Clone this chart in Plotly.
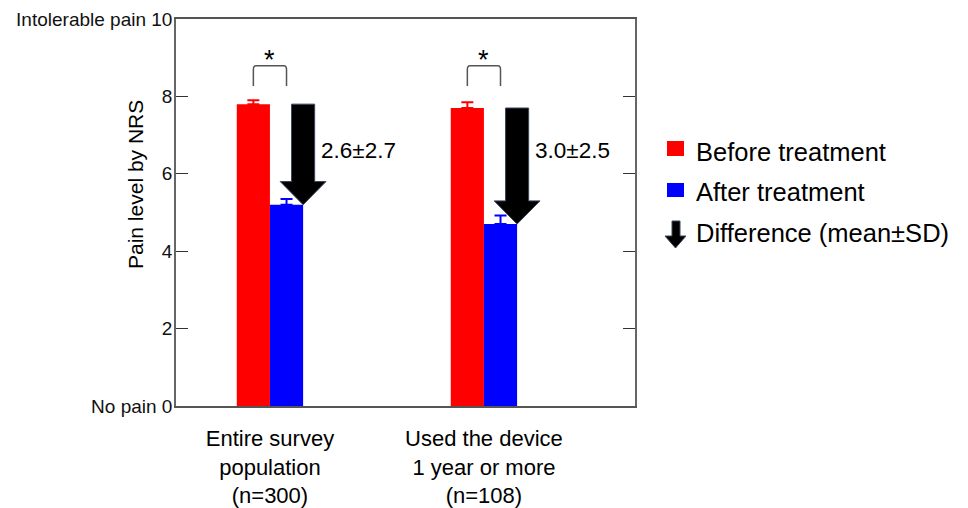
import plotly.graph_objects as go

# ---- data ----
groups = ["Entire survey<br>population<br>(n=300)", "Used the device<br>1 year or more<br>(n=108)"]
before = [7.8, 7.7]
before_err = [0.1, 0.15]
after = [5.2, 4.7]
after_err = [0.15, 0.22]
diff_labels = ["2.6±2.7", "3.0±2.5"]
significance = ["*", "*"]
y_ticks = [0, 2, 4, 6, 8, 10]
y_ticktext = ["No pain\u00a00", "2", "4", "6", "8", "Intolerable pain\u00a010"]
legend_names = ["Before treatment", "After treatment", "Difference (mean±SD)"]

FONT = "Liberation Sans, Arial, sans-serif"
PAGE_W, PAGE_H = 968, 508
OFF = 8  # page body margin
W, H = PAGE_W - OFF, PAGE_H - OFF
L, R, T, B = 176, 635, 19, 406  # plot area in page pixels
xs = list(range(len(groups)))
BW = 0.155  # bar width in x units

fig = go.Figure()
fig.add_trace(go.Bar(x=xs, y=before, name=legend_names[0], marker=dict(color="#ff0000", line=dict(width=0)),
                     error_y=dict(type="data", symmetric=False, array=before_err, arrayminus=[0]*len(xs),
                                  color="#ff0000", thickness=2, width=6)))
fig.add_trace(go.Bar(x=xs, y=after, name=legend_names[1], marker=dict(color="#0000ff", line=dict(width=0)),
                     error_y=dict(type="data", symmetric=False, array=after_err, arrayminus=[0]*len(xs),
                                  color="#0000ff", thickness=2, width=6)))

# difference arrows (built from before/after values)
off, sh, hh, hl = 0.155, 0.054, 0.107, 0.6
for i, (b, a) in enumerate(zip(before, after)):
    c = i + off
    px_ = [c - sh, c + sh, c + sh, c + hh, c, c - hh, c - sh, c - sh]
    py_ = [b, b, a + hl, a + hl, a, a + hl, a + hl, b]
    fig.add_trace(go.Scatter(x=px_, y=py_, mode="lines", fill="toself", fillcolor="#000000",
                             line=dict(color="#3a4560", width=1), hoverinfo="skip", showlegend=False))
    fig.add_annotation(x=c + sh, y=6.6, text=diff_labels[i], showarrow=False, xanchor="left",
                       xshift=4, font=dict(family=FONT, size=22.5, color="#000"))
    # significance bracket
    x0, x1 = i - BW / 2, i + BW / 2
    y0, y1 = 8.27, 8.79
    r = 0.012
    path = (f"M {x0},{y0} L {x0},{y1-0.1} Q {x0},{y1} {x0+r},{y1} L {x1-r},{y1} "
            f"Q {x1},{y1} {x1},{y1-0.1} L {x1},{y0}")
    fig.add_shape(type="path", path=path, xref="x", yref="y", line=dict(color="#555", width=1.5))
    fig.add_annotation(x=i, y=8.95, text=significance[i], showarrow=False,
                       font=dict(family=FONT, size=27, color="#000"))

# custom legend
def px2paper(x, y):
    return (x - L) / (R - L), (B - y) / (B - T)

for (x0, y0, x1, y1), col in [((667, 141, 684, 156), "#ff0000"), ((667, 183, 684, 197), "#0000ff")]:
    a0, b0 = px2paper(x0, y1)
    a1, b1 = px2paper(x1, y0)
    fig.add_shape(type="rect", xref="paper", yref="paper", x0=a0, y0=b0, x1=a1, y1=b1,
                  fillcolor=col, line=dict(width=0))
pts = [(672, 221), (680, 221), (680, 236), (686, 236), (675.5, 248), (665, 236), (672, 236)]
pp = [px2paper(x, y) for x, y in pts]
path = "M " + " L ".join(f"{x},{y}" for x, y in pp) + " Z"
fig.add_shape(type="path", xref="paper", yref="paper", path=path, fillcolor="#000", line=dict(color="#3a4560", width=1))
for name, yy in zip(legend_names, [152, 192, 233]):
    ax, ay = px2paper(694, yy)
    fig.add_annotation(xref="paper", yref="paper", x=ax, y=ay, text=name, showarrow=False,
                       xanchor="left", yanchor="middle", font=dict(family=FONT, size=25.5, color="#000"))

# y title
fig.add_annotation(xref="paper", yref="paper", x=px2paper(136, 0)[0], y=px2paper(0, 185)[1],
                   text="Pain level by NRS", textangle=-90, showarrow=False,
                   xanchor="center", yanchor="middle",
                   font=dict(family=FONT, size=21, color="#000"))

fig.update_layout(
    width=W, height=H,
    margin=dict(l=L - OFF, r=PAGE_W - R, t=T - OFF, b=PAGE_H - B, autoexpand=False),
    plot_bgcolor="white", paper_bgcolor="white", showlegend=False,
    barmode="group", bargap=1 - 2 * BW, bargroupgap=0,
    font=dict(family=FONT, color="#000"),
)
fig.update_xaxes(range=[-0.439, 1.706], tickvals=xs, ticktext=groups, ticks="", showgrid=False,
                 zeroline=False, showline=True, linecolor="#555", linewidth=1.5, mirror=True,
                 tickfont=dict(family=FONT, size=22, color="#000"), ticklabelstandoff=12,
                 automargin=False, ticklabeloverflow="allow")
fig.update_yaxes(range=[0, 10], tickvals=y_ticks, ticktext=y_ticktext,
                 ticks="inside", ticklen=12,
                 tickcolor="#333", tickwidth=1, showgrid=False, zeroline=False, showline=True,
                 linecolor="#666", linewidth=1.5, mirror="ticks", automargin=False,
                 ticklabeloverflow="allow", ticklabelstandoff=-2,
                 tickfont=dict(family=FONT, size=19, color="#111"))

fig.write_html("out.html")
